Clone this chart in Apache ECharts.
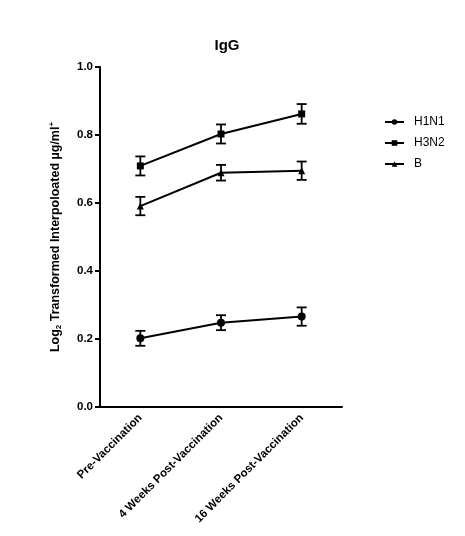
<!DOCTYPE html>
<html><head><meta charset="utf-8">
<script src="https://cdn.jsdelivr.net/npm/echarts@6/dist/echarts.min.js"></script>
<style>html,body{margin:0;padding:0;background:#fff}#c{width:465px;height:536px}</style>
</head><body><div id="c"></div>
<script>
var categories = ['Pre-Vaccination', '4 Weeks Post-Vaccination', '16 Weeks Post-Vaccination'];
var h1n1 = [0.202, 0.248, 0.266];
var h1n1Err = [0.022, 0.022, 0.027];
var h3n2 = [0.709, 0.803, 0.862];
var h3n2Err = [0.028, 0.028, 0.029];
var bVals = [0.591, 0.689, 0.695];
var bErr = [0.027, 0.023, 0.027];
var yTicks = [0, 0.2, 0.4, 0.6, 0.8, 1.0];

var FONT = 'Liberation Sans';
function errData(vals, errs) {
  return vals.map(function (v, i) { return [i, v - errs[i], v + errs[i]]; });
}
function errSeries(name, vals, errs) {
  return {
    type: 'custom', name: name + ' SEM', z: 5, silent: true,
    data: errData(vals, errs),
    renderItem: function (params, api) {
      var lo = api.coord([api.value(0), api.value(1)]);
      var hi = api.coord([api.value(0), api.value(2)]);
      var w = 5;
      var st = { stroke: '#000', lineWidth: 1.8 };
      return { type: 'group', children: [
        { type: 'line', shape: { x1: lo[0], y1: lo[1], x2: hi[0], y2: hi[1] }, style: st },
        { type: 'line', shape: { x1: lo[0] - w, y1: lo[1], x2: lo[0] + w, y2: lo[1] }, style: st },
        { type: 'line', shape: { x1: hi[0] - w, y1: hi[1], x2: hi[0] + w, y2: hi[1] }, style: st }
      ]};
    }
  };
}
function lineSeries(name, vals, symbol, size) {
  return {
    type: 'line', name: name, data: vals, symbol: symbol, symbolSize: size,
    z: 6,
    lineStyle: { color: '#000', width: 2 },
    itemStyle: { color: '#000' }
  };
}
var chart = echarts.init(document.getElementById('c'));
chart.setOption({
  animation: false,
  color: ['#000'],
  textStyle: { fontFamily: FONT },
  title: { text: 'IgG', left: 222, top: 33, textAlign: 'center',
    textStyle: { fontFamily: FONT, fontWeight: 'bold', fontSize: 15, color: '#000' } },
  legend: {
    orient: 'vertical', left: 379, top: 111, itemGap: 9, itemWidth: 19, itemHeight: 7,
    data: ['H1N1', 'H3N2', 'B'],
    textStyle: { fontFamily: FONT, fontSize: 12, color: '#000', padding: [0, 0, 0, 5] }
  },
  grid: { left: 100, right: 123, top: 67, bottom: 129 },
  xAxis: {
    type: 'category', data: categories, boundaryGap: true,
    axisLine: { lineStyle: { color: '#000', width: 2 } },
    axisTick: { alignWithLabel: true, length: 5, lineStyle: { color: '#000', width: 2 } },
    axisLabel: { rotate: 45, interval: 0, fontFamily: FONT, fontWeight: 'bold', fontSize: 11.5, color: '#000', margin: 9 }
  },
  yAxis: {
    type: 'value', min: 0, max: 1.0, interval: 0.2,
    name: '{a|Log}{sub|2}{a| Transformed Interpoloated µg/ml}{sup|+}',
    nameLocation: 'middle', nameGap: 37, nameRotate: 90,
    nameTextStyle: {
      rich: {
        a: { fontFamily: FONT, fontWeight: 'bold', fontSize: 12.5, color: '#000' },
        sub: { fontFamily: FONT, fontWeight: 'bold', fontSize: 8, color: '#000', verticalAlign: 'bottom', padding: [7, 0, 0, 0] },
        sup: { fontFamily: FONT, fontWeight: 'bold', fontSize: 8, color: '#000', verticalAlign: 'top', padding: [0, 0, 7, 0] }
      }
    },
    splitLine: { show: false },
    axisLine: { show: true, lineStyle: { color: '#000', width: 2 } },
    axisTick: { show: true, length: 5, lineStyle: { color: '#000', width: 2 } },
    axisLabel: { fontFamily: FONT, fontWeight: 'bold', fontSize: 11.5, color: '#000', margin: 7,
      formatter: function (v) { return v.toFixed(1); } }
  },
  series: [
    errSeries('H1N1', h1n1, h1n1Err),
    errSeries('H3N2', h3n2, h3n2Err),
    errSeries('B', bVals, bErr),
    lineSeries('H1N1', h1n1, 'circle', 8),
    lineSeries('H3N2', h3n2, 'rect', 7),
    lineSeries('B', bVals, 'triangle', 7)
  ]
});
</script></body></html>
